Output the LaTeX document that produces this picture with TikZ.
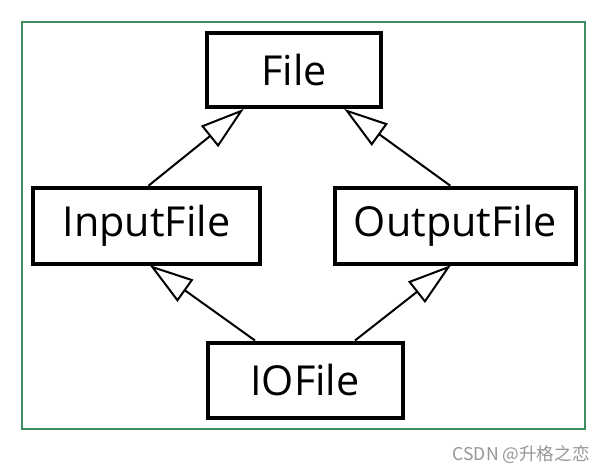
\documentclass[tikz,border=0pt]{standalone}
\usepackage{fontspec}
\setmainfont{Open Sans}
\newfontfamily\cjkfont{Noto Sans CJK SC}
\usetikzlibrary{arrows.meta}
\definecolor{frameg}{RGB}{62,140,95}
\definecolor{wmgray}{RGB}{150,150,150}
\tikzset{
  classbox/.style={draw=black, line width=3pt, inner sep=0pt, font=\fontsize{31}{37}\selectfont, text=black},
  inherit/.style={draw=black, line width=1.5pt, -{Triangle[open, length=33pt, width=20.25pt, line width=1.5pt]}, shorten >=-0.75pt},
}
\begin{document}
\begin{tikzpicture}[x=0.75pt,y=-0.75pt]
\useasboundingbox (0,0) rectangle (607,474);
\fill[white] (0,0) rectangle (607,474);
\draw[frameg, line width=1.5pt] (22,22) rectangle (584.5,429);
\node[classbox, minimum width=130.5pt, minimum height=55.5pt] (file) at (294,70.5) {File};
\node[classbox, minimum width=170.25pt, minimum height=57pt] (in) at (146.5,225.7) {InputFile};
\node[classbox, minimum width=180.75pt, minimum height=57pt] (out) at (455.3,225.7) {OutputFile};
\node[classbox, minimum width=146.25pt, minimum height=56.25pt] (io) at (305,380) {IOFile};
\draw[inherit] ([xshift=1.5pt]in.north) -- ([xshift=-38.25pt]file.south);
\draw[inherit] ([xshift=-3.75pt]out.north) -- ([xshift=38.25pt]file.south);
\draw[inherit] ([xshift=-37.5pt]io.north) -- ([xshift=3pt]in.south);
\draw[inherit] ([xshift=37.5pt]io.north) -- ([xshift=-3.75pt]out.south);
\node[anchor=east, text=wmgray, font=\cjkfont\fontsize{13.2}{16}\selectfont, inner sep=0pt] (wm) at (590,455) {CSDN @升格之恋};
\end{tikzpicture}
\end{document}
